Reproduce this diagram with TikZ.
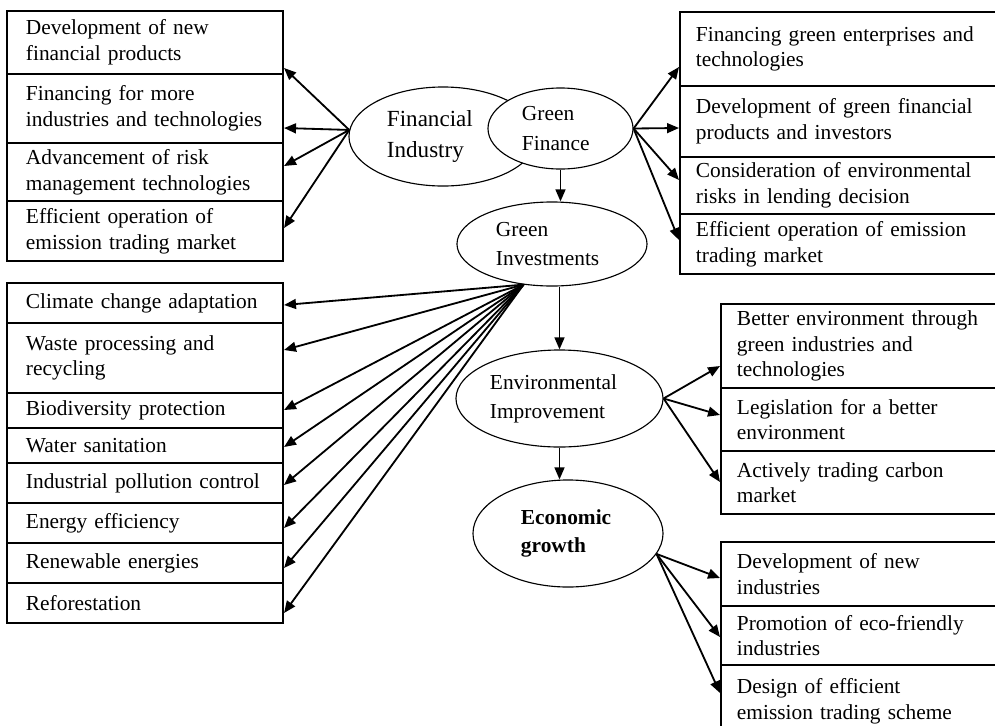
\documentclass[tikz,border=0pt]{standalone}
\usepackage{fontspec}
\setmainfont{Liberation Serif}
\usepackage{tikz}
\usetikzlibrary{shapes.geometric,arrows.meta}

\tikzset{
  box/.style={draw, line width=1.4pt, anchor=north west, align=left,
    inner xsep=0.475cm, inner ysep=0pt, text width=5.95cm,
    font=\fontsize{15.2}{18.2}\selectfont},
  rbox/.style={box, inner xsep=0.4cm, text width=7.5cm},
  blob/.style={draw, ellipse, line width=0.8pt, fill=white, inner sep=0pt,
    align=left, font=\fontsize{15.2}{20.5}\selectfont},
  link/.style={line width=1.3pt, -{Triangle[length=8.5pt,width=7pt]}}
}

\begin{document}
\begin{tikzpicture}[x=0.025cm, y=-0.025cm]
\useasboundingbox (0,0) rectangle (995,725);

%─── Centre column: the chain of ellipses ────────────────────────────────────
\node[blob, minimum width=4.7cm, minimum height=2.475cm, text width=2.8cm,
  font=\fontsize{16.4}{22.5}\selectfont] (finInd) at (443,136.5)
  {Financial\\Industry};
\node[blob, minimum width=3.625cm, minimum height=2.025cm, text width=1.925cm,
  font=\fontsize{15.2}{22}\selectfont]
  (grnFin) at (560.5,128.5) {Green\\Finance};
\node[blob, minimum width=4.75cm, minimum height=2.1cm, text width=2.8cm]
  (grnInv) at (552,244) {Green\\Investments};
\node[blob, minimum width=5.175cm, minimum height=2.425cm, text width=3.475cm]
  (envImp) at (559.5,398.5) {Environmental\\Improvement};
\node[blob, minimum width=4.75cm, minimum height=2.675cm, text width=2.35cm,
  font=\fontsize{15.2}{20.5}\selectfont\bfseries]
  (ecoGro) at (568,533.5) {Economic\\growth};

%─── Financial industry outcomes (top left) ─────────────────────────────────
\node[box, minimum height=1.575cm] (finA) at (6,10)
  {Development of new\\financial products};
\node[box, minimum height=1.725cm] (finB) at (6,73)
  {Financing for more\\industries and technologies};
\node[box, minimum height=1.45cm] (finC) at (6,142)
  {Advancement of risk\\management technologies};
\node[box, minimum height=1.5cm] (finD) at (6,200)
  {Efficient operation of\\emission trading market};

%─── Green finance outcomes (top right) ─────────────────────────────────────
\node[rbox, minimum height=1.85cm] (gfA) at (679,11)
  {Financing green enterprises and\\technologies};
\node[rbox, minimum height=1.775cm] (gfB) at (679,85)
  {Development of green financial\\products and investors};
\node[rbox, minimum height=1.425cm] (gfC) at (679,156)
  {Consideration of environmental\\risks in lending decision};
\node[rbox, minimum height=1.5cm] (gfD) at (679,213)
  {Efficient operation of emission\\trading market};

%─── Green investment areas (bottom left) ───────────────────────────────────
\node[box, minimum height=1cm] (invA) at (6,282) {Climate change adaptation};
\node[box, minimum height=1.75cm] (invB) at (6,322)
  {Waste processing and\\recycling};
\node[box, minimum height=0.875cm] (invC) at (6,392) {Biodiversity protection};
\node[box, minimum height=0.875cm] (invD) at (6,427) {Water sanitation};
\node[box, minimum height=1cm] (invE) at (6,462) {Industrial pollution control};
\node[box, minimum height=1cm] (invF) at (6,502) {Energy efficiency};
\node[box, minimum height=1cm] (invG) at (6,542) {Renewable energies};
\node[box, minimum height=1cm] (invH) at (6,582) {Reforestation};

%─── Environmental outcomes (middle right) ──────────────────────────────────
\node[rbox, minimum height=2.1cm] (envA) at (720,303)
  {Better environment through\\green industries and\\technologies};
\node[rbox, minimum height=1.575cm] (envB) at (720,387)
  {Legislation for a better\\environment};
\node[rbox, minimum height=1.575cm] (envC) at (720,450)
  {Actively trading carbon\\market};

%─── Growth outcomes (bottom right) ─────────────────────────────────────────
\node[rbox, minimum height=1.6cm] (ecoA) at (720,541)
  {Development of new\\industries};
\node[rbox, minimum height=1.475cm] (ecoB) at (720,605)
  {Promotion of eco-friendly\\industries};
\node[rbox, minimum height=1.8cm] (ecoC) at (720,664)
  {Design of efficient\\emission trading scheme};

%─── Arrows ─────────────────────────────────────────────────────────────────
\draw[link] (finInd.176) -- (finA.east |- 0,68);
\draw[link] (finInd.176) -- (finB.east |- 0,128);
\draw[link] (finInd.176) -- (finC.east |- 0,166);
\draw[link] (finInd.176) -- (finD.east |- 0,228);

\draw[link] (grnFin.east) -- (gfA.west |- 0,67);
\draw[link] (grnFin.east) -- (gfB.west |- 0,128);
\draw[link] (grnFin.east) -- (gfC.west |- 0,180);
\draw[link] (grnFin.east) -- (gfD.west |- 0,240);

\draw[link] (grnFin.south) -- (grnFin.south |- grnInv.north);
\draw[link] (grnInv.south -| envImp.north) -- (envImp.north);
\draw[link] (envImp.south) -- (envImp.south |- ecoGro.north);

\draw[link] (grnInv.235) -- (invA.east |- 0,305);
\draw[link] (grnInv.235) -- (invB.east |- 0,350);
\draw[link] (grnInv.235) -- (invC.east |- 0,410);
\draw[link] (grnInv.235) -- (invD.east |- 0,447);
\draw[link] (grnInv.235) -- (invE.east |- 0,485);
\draw[link] (grnInv.235) -- (invF.east |- 0,528);
\draw[link] (grnInv.235) -- (invG.east |- 0,568);
\draw[link] (grnInv.235) -- (invH.east |- 0,613);

\draw[link] (envImp.east) -- (envA.west |- 0,366);
\draw[link] (envImp.east) -- (envB.west |- 0,415);
\draw[link] (envImp.east) -- (envC.west |- 0,482);

\draw[link] (ecoGro.-13) -- (ecoA.west |- 0,578);
\draw[link] (ecoGro.-13) -- (ecoB.west |- 0,637);
\draw[link] (ecoGro.-13) -- (ecoC.west |- 0,693);

\end{tikzpicture}
\end{document}
